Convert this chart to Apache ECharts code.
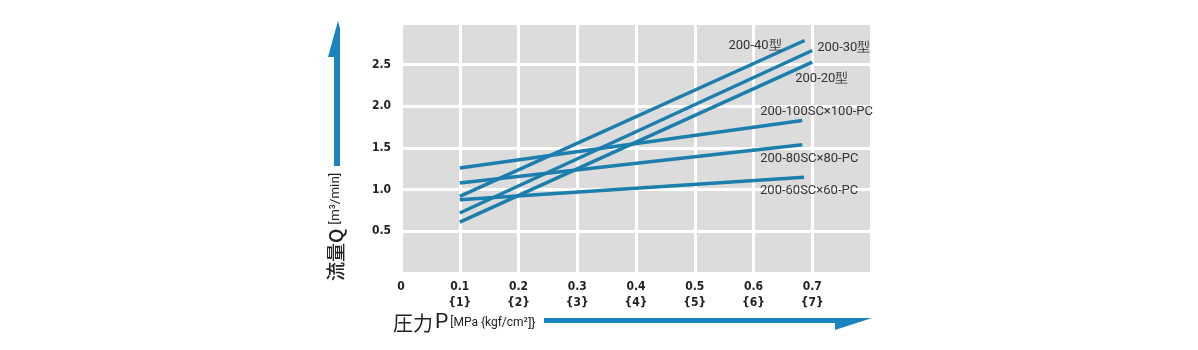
<!DOCTYPE html>
<html>
<head>
<meta charset="utf-8">
<script src="https://cdn.jsdelivr.net/npm/echarts@6/dist/echarts.min.js"></script>
<style>
  html, body { margin: 0; padding: 0; background: #fff; }
  #chart { width: 1198px; height: 350px; }
</style>
</head>
<body>
<div id="chart"></div>
<script>
// Pressure P [MPa] vs flow rate Q [m3/min], one line per model
const model40 = [[0.1, 0.92], [0.687, 2.79]];
const model30 = [[0.1, 0.72], [0.70, 2.67]];
const model20 = [[0.1, 0.61], [0.70, 2.53]];
const model100 = [[0.1, 1.26], [0.683, 1.83]];
const model80 = [[0.1, 1.08], [0.683, 1.54]];
const model60 = [[0.1, 0.88], [0.686, 1.15]];

const seriesNames = ['200-40型', '200-30型', '200-20型', '200-100SC×100-PC', '200-80SC×80-PC', '200-60SC×60-PC'];
const seriesData = [model40, model30, model20, model100, model80, model60];

const xTickLabels = { '0': '0', '0.1': '0.1\n{1}', '0.2': '0.2\n{2}', '0.3': '0.3\n{3}', '0.4': '0.4\n{4}', '0.5': '0.5\n{5}', '0.6': '0.6\n{6}', '0.7': '0.7\n{7}' };
const yTickLabels = ['0.5', '1.0', '1.5', '2.0', '2.5'];

// where each end label sits relative to its line end
const labelPlacement = [
  { align: 'right', offset: [-23, 5] },
  { align: 'left', offset: [5, -3] },
  { align: 'left', offset: [-17, 17] },
  { align: 'left', offset: [-42, -9] },
  { align: 'left', offset: [-42, 14] },
  { align: 'left', offset: [-44, 14] }
];

const LINE_COLOR = '#1c7ead';
const ARROW_COLOR = '#1a84bd';
const LABEL_FONT = "'Roboto', sans-serif";
const TICK_FONT = "'DejaVu Sans Condensed', 'DejaVu Sans', sans-serif";
const CJK_FONT = "'Noto Sans CJK JP', sans-serif";

const chart = echarts.init(document.getElementById('chart'), null, { renderer: 'canvas' });

const series = seriesData.map((d, i) => ({
  name: seriesNames[i],
  type: 'line',
  data: d,
  symbol: 'none',
  silent: true,
  animation: false,
  lineStyle: { color: LINE_COLOR, width: 3.5 },
  endLabel: {
    show: true,
    formatter: seriesNames[i],
    color: '#333',
    fontSize: 13,
    fontFamily: LABEL_FONT,
    distance: 0,
    align: labelPlacement[i].align,
    verticalAlign: 'middle',
    offset: labelPlacement[i].offset
  }
}));

chart.setOption({
  animation: false,
  grid: {
    left: 401, right: 327, top: 23, bottom: 77,
    show: true, backgroundColor: '#dcdcdc', borderWidth: 0
  },
  xAxis: {
    type: 'value', min: 0, max: 0.8, interval: 0.1,
    axisLine: { show: false }, axisTick: { show: false },
    splitLine: { show: true, lineStyle: { color: '#ffffff', width: 3 } },
    axisLabel: {
      margin: 6, fontSize: 12, lineHeight: 16, fontWeight: 'bold', color: '#222',
      fontFamily: TICK_FONT,
      formatter: v => { const k = String(Math.round(v * 10) / 10); return xTickLabels[k] !== undefined ? xTickLabels[k] : ''; }
    }
  },
  yAxis: {
    type: 'value', min: 0, max: 3, interval: 0.5,
    axisLine: { show: false }, axisTick: { show: false },
    splitLine: { show: true, lineStyle: { color: '#ffffff', width: 3 } },
    axisLabel: {
      margin: 10, fontSize: 12, fontWeight: 'bold', color: '#222',
      fontFamily: TICK_FONT,
      formatter: v => { const s = v.toFixed(1); return yTickLabels.indexOf(s) >= 0 ? s : ''; }
    }
  },
  series: series,
  graphic: [
    // vertical axis arrow
    {
      type: 'polygon', silent: true,
      shape: { points: [[338, 21], [340, 28], [340, 166], [334, 166], [334, 57], [328, 57]] },
      style: { fill: ARROW_COLOR }
    },
    // horizontal axis arrow
    {
      type: 'polygon', silent: true,
      shape: { points: [[544, 318], [872, 318], [835, 330], [835, 323], [544, 323]] },
      style: { fill: ARROW_COLOR }
    },
    // vertical axis title
    {
      type: 'text', silent: true, x: 336, y: 281, rotation: Math.PI / 2,
      style: {
        text: '{a|流量Q}{b|[m³/min]}',
        verticalAlign: 'middle', align: 'left',
        rich: {
          a: { fontSize: 19, fontWeight: 500, fontFamily: CJK_FONT, fill: '#222' },
          b: { fontSize: 13.5, fontFamily: LABEL_FONT, fill: '#222', padding: [0, 0, 0, 4] }
        }
      }
    },
    // horizontal axis title
    {
      type: 'text', silent: true, x: 393, y: 323,
      style: {
        text: '{a|圧力}{p|P}{b|[MPa {kgf/cm²}]}',
        verticalAlign: 'middle', align: 'left',
        rich: {
          a: { fontSize: 20, fontFamily: CJK_FONT, fill: '#222' },
          p: { fontSize: 21, fontFamily: LABEL_FONT, fill: '#222', padding: [0, 0, 0, 2] },
          b: { fontSize: 12, fontFamily: LABEL_FONT, fill: '#222', padding: [0, 0, 0, 2] }
        }
      }
    }
  ]
});
</script>
</body>
</html>
